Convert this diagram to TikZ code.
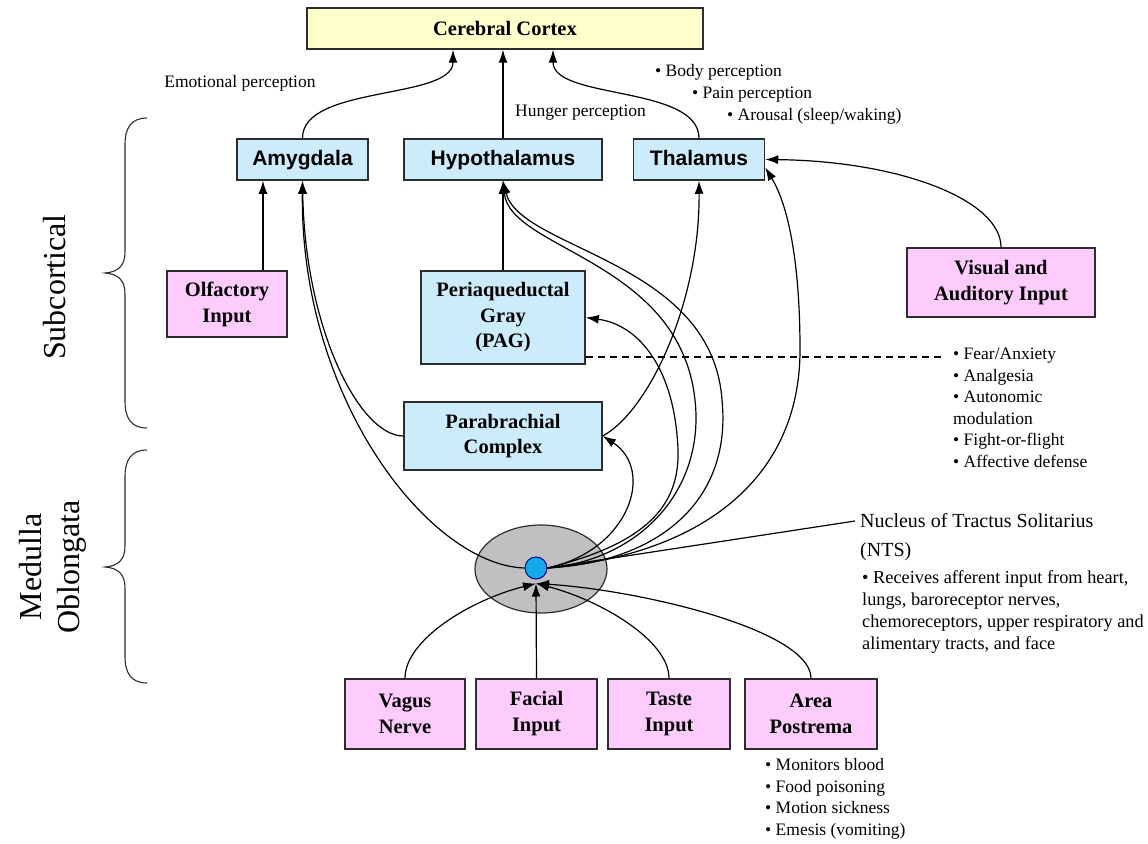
\documentclass[tikz,border=0pt]{standalone}
\usepackage{fontspec}
\setmainfont{Liberation Serif}
\newfontfamily\arialf{Liberation Sans}
\usetikzlibrary{arrows.meta,shapes.geometric}
\definecolor{boxblue}{RGB}{204,236,252}
\definecolor{boxpink}{RGB}{253,204,253}
\definecolor{boxyellow}{RGB}{255,255,204}
\definecolor{edgegray}{RGB}{45,45,45}
\definecolor{ellgray}{RGB}{192,192,192}
\definecolor{ntsblue}{RGB}{20,170,235}
\begin{document}
\begin{tikzpicture}[x=1pt,y=-1pt,
  box/.style={draw=edgegray, line width=1.5pt, inner sep=0pt, align=center},
  sansbox/.style={box, fill=boxblue, font=\arialf\fontsize{21}{25}\selectfont\bfseries,
                  text height=15.5pt, text depth=4.5pt},
  serifblue/.style={box, fill=boxblue, font=\fontsize{20.5}{25.5}\selectfont\bfseries},
  pinkbox/.style={box, fill=boxpink, font=\fontsize{20.5}{26}\selectfont\bfseries},
  arr/.style={-{Latex[length=13pt,width=9pt]}, line width=1.2pt},
  con/.style={line width=1.2pt},
  lbl/.style={font=\fontsize{17.5}{21.5}\selectfont, inner sep=0pt, anchor=west, align=left},
  big/.style={font=\fontsize{32}{38}\selectfont, inner sep=0pt, rotate=90, align=center}]
\useasboundingbox (0,0) rectangle (1148,843);

% ---------- boxes ----------
\node[box, fill=boxyellow, font=\fontsize{20.5}{25}\selectfont\bfseries,
      minimum width=396pt, minimum height=41pt] (cortex) at (505,28.5) {Cerebral Cortex};
\node[sansbox, minimum width=131pt, minimum height=41pt] (amyg) at (302.5,159.5) {Amygdala};
\node[sansbox, minimum width=198pt, minimum height=41pt] (hypo) at (503,159.5) {Hypothalamus};
\node[sansbox, minimum width=131pt, minimum height=41pt] (thal) at (699,159.5) {Thalamus};
\node[pinkbox, minimum width=120pt, minimum height=66pt] (olf) at (227,304) {Olfactory\\Input};
\node[serifblue, minimum width=164pt, minimum height=93pt] (pag) at (503,317.5) {Periaqueductal\\Gray\\(PAG)};
\node[serifblue, minimum width=198pt, minimum height=68pt] (para) at (503,436) {Parabrachial\\Complex};
\node[pinkbox, minimum width=188pt, minimum height=69pt] (vis) at (1001,282.5) {Visual and\\Auditory Input};
\node[pinkbox, minimum width=120pt, minimum height=70pt] (vagus) at (405,714) {Vagus\\Nerve};
\node[pinkbox, minimum width=121pt, minimum height=70pt] (facial) at (536.5,714) {Facial\\Input};
\node[pinkbox, minimum width=122pt, minimum height=70pt] (taste) at (669,714) {Taste\\Input};
\node[pinkbox, minimum width=132pt, minimum height=70pt] (area) at (811,714) {Area\\Postrema};

% ---------- NTS ----------
\node[ellipse, draw=edgegray, fill=ellgray, line width=1.2pt, minimum width=132pt,
      minimum height=88pt, inner sep=0pt] (ell) at (541,569) {};
\node[circle, draw=blue!55!black, fill=ntsblue, line width=1pt, minimum size=22pt,
      inner sep=0pt] (nts) at (536,568) {};

% ---------- labels ----------
\node[lbl, anchor=center] (emo) at (240,83) {Emotional perception};
\node[lbl] (hung) at (515,113) {Hunger perception};
\node[lbl] (body) at (655,72) {• Body perception};
\node[lbl] (pain) at (692,95) {• Pain perception};
\node[lbl] (arou) at (727,116) {• Arousal (sleep/waking)};
\node[lbl] (pagl) at (953,408) {• Fear/Anxiety\\• Analgesia\\• Autonomic\\modulation\\• Fight-or-flight\\• Affective defense};
\node[lbl, font=\fontsize{20}{29}\selectfont] (ntsl) at (860,537) {Nucleus of Tractus Solitarius\\(NTS)};
\node[lbl, font=\fontsize{18.3}{21.7}\selectfont] (ntsb) at (862,612) {• Receives afferent input from heart,\\lungs, baroreceptor nerves,\\chemoreceptors, upper respiratory and\\alimentary tracts, and face};
\node[lbl] (areal) at (765,799) {• Monitors blood\\• Food poisoning\\• Motion sickness\\• Emesis (vomiting)};

% ---------- connectors to cortex ----------
\draw[arr] (amyg.north) .. controls (302,85) and (453,100) .. ([xshift=-52pt]cortex.south);
\draw[arr] (hypo.north) -- (hypo.north |- cortex.south);
\draw[arr] (thal.north) .. controls (699,85) and (553,100) .. ([xshift=48pt]cortex.south);

% ---------- amygdala inputs ----------
\draw[arr] ([xshift=36pt]olf.north) -- ([xshift=36pt]olf.north |- amyg.south);
\draw[arr] (nts.west) .. controls (430,565) and (300,400) .. (amyg.south);
\draw[arr] (para.west) .. controls (360,436) and (305,330) .. (amyg.south);

% ---------- hypothalamus ----------
\draw[arr] (pag.north) -- (hypo.south);
\draw[arr] (nts.east) .. controls (640,560) and (705,490) .. (695,400)
            .. controls (680,260) and (510,250) .. (hypo.south);
\draw[arr] (nts.east) .. controls (660,562) and (732,500) .. (722,400)
            .. controls (712,260) and (520,250) .. (hypo.south);

% ---------- PAG / parabrachial ----------
\draw[arr] (nts.east) .. controls (640,545) and (680,510) .. (678,450)
            .. controls (675,370) and (640,325) .. (pag.east);
\draw[arr] (nts.east) .. controls (630,550) and (655,470) .. (para.east);

% ---------- thalamus ----------
\draw[arr] (para.east) .. controls (650,410) and (700,300) .. (thal.south);
\draw[arr] (nts.east) .. controls (700,555) and (800,480) .. (800,350)
            .. controls (800,250) and (785,200) .. ([yshift=-8pt]thal.east);
\draw[arr] (vis.north) .. controls (1001,200) and (900,161) .. (thal.east);

% ---------- NTS label line and dashed line ----------
\draw[con] (nts.east) -- (855,521);
\coordinate (dashend) at (945,357);
\draw[con, dash pattern=on 7pt off 5pt] (pag.east |- dashend) -- (dashend);

% ---------- inputs to NTS ----------
\coordinate (ntsin) at ([yshift=-4pt]nts.south);
\draw[arr] (vagus.north) .. controls (405,640) and (470,600) .. (ntsin);
\draw[arr] (facial.north) -- (ntsin);
\draw[arr] (taste.north) .. controls (669,640) and (600,600) .. (ntsin);
\draw[arr] (area.north) .. controls (811,630) and (640,590) .. (ntsin);

% ---------- braces ----------
\draw[line width=1.1pt, draw=edgegray] (147,118) .. controls (131,118) and (125,128) .. (125,145)
   -- (125,252) .. controls (125,266) and (118,272) .. (105,273)
   .. controls (118,274) and (125,280) .. (125,294)
   -- (125,401) .. controls (125,418) and (131,428) .. (147,428);
\draw[line width=1.1pt, draw=edgegray] (147,450) .. controls (131,450) and (125,460) .. (125,477)
   -- (125,546) .. controls (125,560) and (118,566) .. (105,567)
   .. controls (118,568) and (125,574) .. (125,588)
   -- (125,656) .. controls (125,673) and (131,683) .. (147,683);
\node[big] (subc) at (55,287) {Subcortical};
\node[big] (med) at (53,567) {Medulla\\Oblongata};
\end{tikzpicture}
\end{document}
